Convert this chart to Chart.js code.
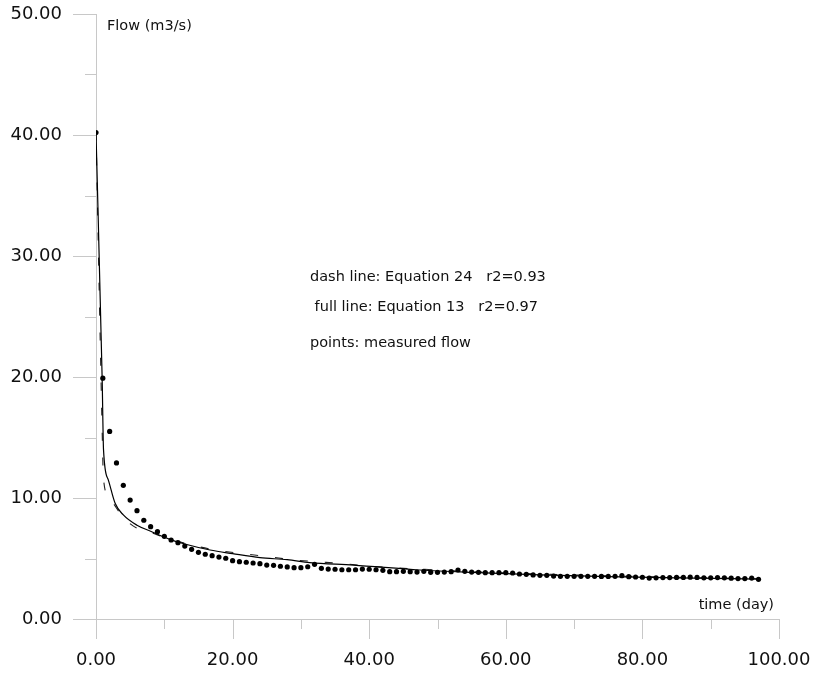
<!DOCTYPE html>
<html lang="en">
<head>
<meta charset="UTF-8">
<title>Flow recession</title>
<style>
  html, body { margin: 0; padding: 0; background: #fff; }
  #wrap { width: 813px; height: 674px; }
</style>
</head>
<body>
<div id="wrap"><canvas id="chartContainer"></canvas></div>
<script src="https://cdn.jsdelivr.net/npm/chart.js"></script>
<script>
// measured daily flow (m3/s), day 0 .. 97
const measuredFlow = [
  40.2, 19.9, 15.5, 12.9, 11.05, 9.83, 8.95, 8.16, 7.63, 7.22,
  6.83, 6.53, 6.31, 6.03, 5.76, 5.51, 5.35, 5.23, 5.12, 5.02,
  4.82, 4.74, 4.69, 4.63, 4.57, 4.46, 4.44, 4.36, 4.30, 4.24,
  4.24, 4.32, 4.52, 4.19, 4.13, 4.11, 4.07, 4.07, 4.07, 4.13,
  4.11, 4.07, 4.02, 3.91, 3.91, 3.94, 3.91, 3.88, 3.94, 3.86,
  3.86, 3.88, 3.91, 4.05, 3.94, 3.88, 3.86, 3.83, 3.83, 3.83,
  3.83, 3.80, 3.72, 3.69, 3.64, 3.61, 3.61, 3.55, 3.53, 3.53,
  3.53, 3.53, 3.53, 3.53, 3.52, 3.52, 3.53, 3.58, 3.50, 3.47,
  3.45, 3.38, 3.40, 3.42, 3.42, 3.44, 3.44, 3.46, 3.44, 3.40,
  3.40, 3.42, 3.40, 3.37, 3.34, 3.34, 3.38, 3.28
];

// full line: Equation 13
const eq13Time = [0, 0.9, 1.1, 1.8, 2.8, 4, 6, 8, 10.8, 13, 16.7, 20, 24, 28, 31.3, 37.7, 47.4, 55, 65, 75, 85, 97];
const eq13Flow = [40.2, 19.9, 14.0, 11.5, 9.56, 8.6, 7.75, 7.25, 6.58, 6.2, 5.70, 5.4, 5.07, 4.9, 4.66, 4.46, 4.05, 3.85, 3.65, 3.5, 3.4, 3.3];

// dash line: Equation 24
const eq24Time = [0, 0.98, 1.07, 2.05, 4, 6, 8, 10, 14, 17.7, 21.5, 25.3, 29, 32.8, 36.6, 40.3, 44, 48, 55, 65, 75, 85, 97];
const eq24Flow = [40.2, 13.6, 11.7, 9.9, 8.4, 7.5, 7.15, 6.75, 6.12, 5.68, 5.4, 5.15, 4.88, 4.72, 4.55, 4.35, 4.22, 4.11, 3.92, 3.72, 3.57, 3.45, 3.33];

// axis ticks
const yMajorTicks = [0, 10, 20, 30, 40, 50];
const yMinorTicks = [5, 15, 25, 35, 45];
const xMajorTicks = [0, 20, 40, 60, 80, 100];
const xMinorTicks = [10, 30, 50, 70, 90];

const axisGray = '#c8c8c8';
const textFont = '14.5px "DejaVu Sans"';

const pairs = (xs, ys) => xs.map((x, i) => ({ x: x, y: ys[i] }));

// no label overhang padding, so the plot area is exactly where the layout puts it
const noOverhang = s => {
  s.paddingLeft = 0; s.paddingRight = 0; s.paddingTop = 0; s.paddingBottom = 0;
};

// outside tick marks (long major, short minor) + free texts
const axisDecor = {
  id: 'axisDecor',
  beforeDatasetsDraw(chart) {
    const { ctx, scales: { x, y } } = chart;
    ctx.save();
    ctx.strokeStyle = axisGray;
    ctx.lineWidth = 1;
    ctx.beginPath();
    yMajorTicks.concat(yMinorTicks).forEach(v => {
      const py = Math.round(y.getPixelForValue(v)) + 0.5;
      const len = yMajorTicks.includes(v) ? 23 : 11;
      ctx.moveTo(x.left - len, py);
      ctx.lineTo(x.left, py);
    });
    xMajorTicks.concat(xMinorTicks).forEach(v => {
      const px = Math.round(x.getPixelForValue(v)) + 0.5;
      const len = xMajorTicks.includes(v) ? 20 : 10;
      ctx.moveTo(px, y.bottom);
      ctx.lineTo(px, y.bottom + len);
    });
    ctx.stroke();

    ctx.fillStyle = '#111';
    ctx.font = textFont;
    ctx.textBaseline = 'alphabetic';
    ctx.textAlign = 'left';
    ctx.fillText('Flow (m3/s)', x.left + 11, 30);
    ctx.fillText('dash line: Equation 24   r2=0.93', 310, 281);
    ctx.fillText(' full line: Equation 13   r2=0.97', 310, 311);
    ctx.fillText('points: measured flow', 310, 347);
    ctx.textAlign = 'right';
    ctx.fillText('time (day)', x.right - 5, 609);
    ctx.restore();
  }
};

const ctx = document.getElementById('chartContainer').getContext('2d');
new Chart(ctx, {
  type: 'line',
  data: {
    datasets: [
      {
        label: 'points: measured flow',
        data: measuredFlow.map((q, day) => ({ x: day, y: q })),
        showLine: false,
        pointRadius: 2.6,
        pointBackgroundColor: '#000',
        pointBorderWidth: 0,
        order: 0
      },
      {
        label: 'full line: Equation 13',
        data: pairs(eq13Time, eq13Flow),
        borderColor: '#000',
        borderWidth: 1.2,
        pointRadius: 0,
        cubicInterpolationMode: 'monotone',
        order: 1
      },
      {
        label: 'dash line: Equation 24',
        data: pairs(eq24Time, eq24Flow),
        borderColor: '#222',
        borderWidth: 1.1,
        borderDash: [8, 17],
        pointRadius: 0,
        cubicInterpolationMode: 'monotone',
        order: 2
      }
    ]
  },
  options: {
    responsive: true,
    maintainAspectRatio: false,
    animation: false,
    layout: { padding: { left: 0, right: 34, top: 14, bottom: 0 } },
    plugins: {
      legend: { display: false },
      tooltip: { enabled: false }
    },
    scales: {
      x: {
        type: 'linear',
        min: 0,
        max: 100,
        afterFit: s => { s.height = 55; noOverhang(s); },
        afterBuildTicks: s => { s.ticks = xMajorTicks.map(v => ({ value: v })); },
        grid: { drawOnChartArea: false, drawTicks: false },
        border: { display: true, color: axisGray, width: 1 },
        ticks: {
          padding: 31,
          color: '#111',
          font: { family: 'DejaVu Sans', size: 18 },
          maxRotation: 0,
          callback: v => Number(v).toFixed(2)
        }
      },
      y: {
        type: 'linear',
        min: 0,
        max: 50,
        afterFit: s => { s.width = 96; noOverhang(s); },
        afterBuildTicks: s => { s.ticks = yMajorTicks.map(v => ({ value: v })); },
        grid: { drawOnChartArea: false, drawTicks: false },
        border: { display: true, color: axisGray, width: 1 },
        ticks: {
          padding: 34,
          color: '#111',
          font: { family: 'DejaVu Sans', size: 18 },
          callback: v => Number(v).toFixed(2)
        }
      }
    }
  },
  plugins: [axisDecor]
});
</script>
</body>
</html>
